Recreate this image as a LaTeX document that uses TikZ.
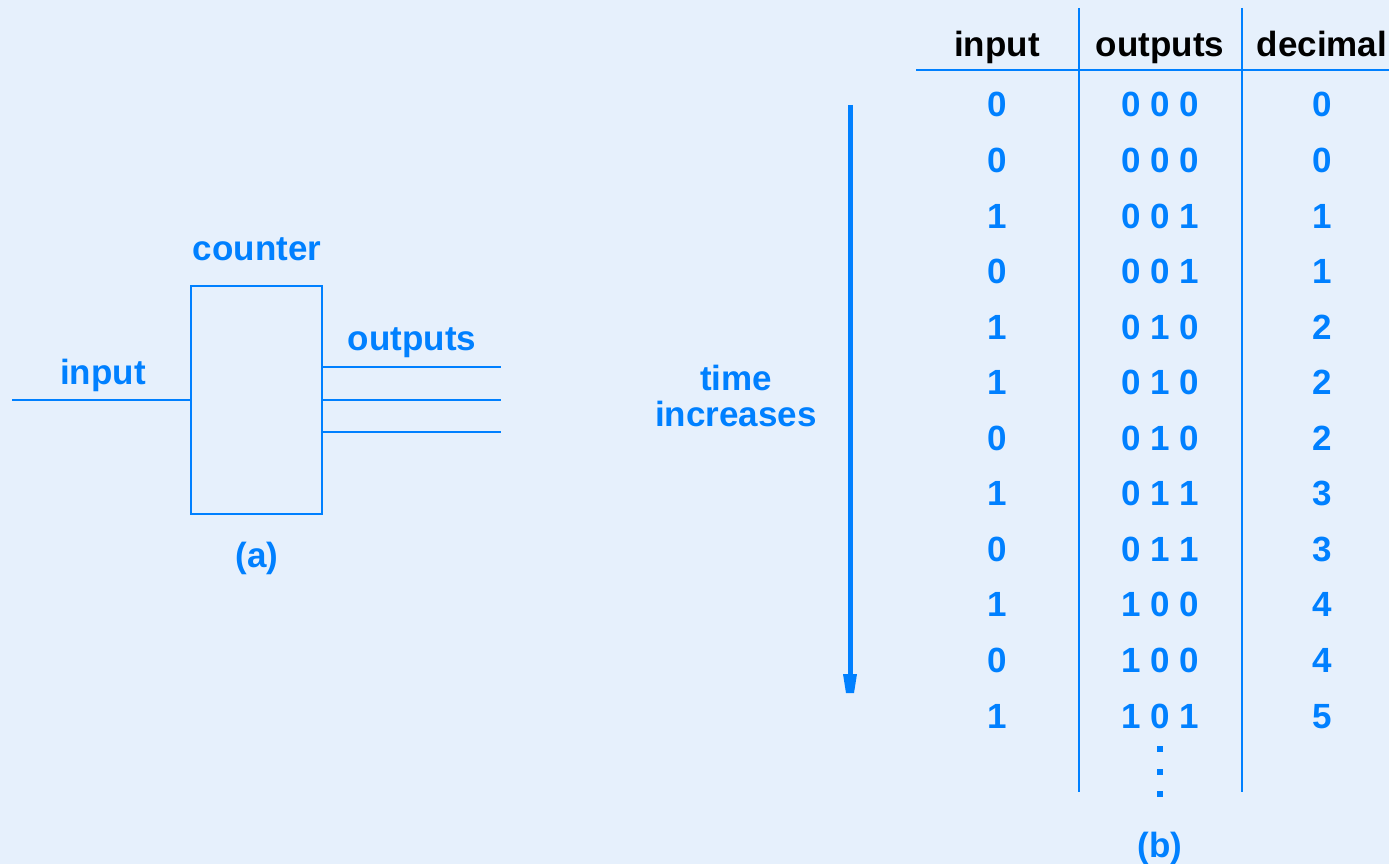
\documentclass[tikz,border=0pt]{standalone}
\usepackage{fontspec}
\setmainfont{Liberation Sans}
\usetikzlibrary{calc}
\definecolor{bgblue}{HTML}{E6F0FC}
\definecolor{linkblue}{HTML}{0080FF}
\tikzset{
	lbl/.style={font=\fontsize{35}{40}\selectfont\bfseries, text=linkblue, inner sep=0pt, anchor=base},
	hdr/.style={lbl, text=black},
	wire/.style={line width=2.3pt, color=linkblue}
}

\begin{document}
\begin{tikzpicture}[x=1pt, y=-1pt]
			%%%%% START %%%%%
			
			\fill[bgblue] (0, 0) rectangle (1389, 864);
			\useasboundingbox (0, 0) rectangle (1389, 864);
			
			% (a) counter
			\node[wire, draw, minimum width=131pt, minimum height=228pt, inner sep=0pt] (counter) at (256.5, 400) {};
			\coordinate (inw) at (12, 400);
			\coordinate (o1) at (501, 367);
			\coordinate (o2) at (501, 400);
			\coordinate (o3) at (501, 432);
			\draw[wire] (inw) -- (counter.west);
			\draw[wire] (counter.east |- o1) -- (o1);
			\draw[wire] (counter.east |- o2) -- (o2);
			\draw[wire] (counter.east |- o3) -- (o3);
			
			\node[lbl] (lblin) at (103, 384) {input};
			\node[lbl] (lblcnt) at (257, 260) {counter};
			\node[lbl] (lblout) at (412, 350) {outputs};
			\node[lbl, anchor=center] (capa) at (257, 558) {(a)};
			
			% time arrow
			\draw[line width=5pt, color=linkblue] (850, 105) -- (850, 676);
			\fill[linkblue] (843, 674) -- (857, 674) -- (854, 693) -- (846, 693) -- cycle;
			\node[lbl] (time) at (736, 390) {time};
			\node[lbl] (incr) at (736, 426) {increases};
			
			% (b) table
			\draw[wire] (916, 70) -- (1389, 70);
			\draw[wire] (1079, 8) -- (1079, 792);
			\draw[wire] (1242, 8) -- (1242, 792);
			
			\node[hdr] (hin) at (997, 57) {input};
			\node[hdr] (hout) at (1160, 57) {outputs};
			\node[hdr] (hdec) at (1322, 57) {decimal};
			
			\node[lbl] (in1) at (997, 117) {0};   \node[lbl] (out1) at (1160, 117) {0 0 0};   \node[lbl] (dec1) at (1322, 117) {0};
			\node[lbl] (in2) at (997, 172) {0};   \node[lbl] (out2) at (1160, 172) {0 0 0};   \node[lbl] (dec2) at (1322, 172) {0};
			\node[lbl] (in3) at (997, 228) {1};   \node[lbl] (out3) at (1160, 228) {0 0 1};   \node[lbl] (dec3) at (1322, 228) {1};
			\node[lbl] (in4) at (997, 283) {0};   \node[lbl] (out4) at (1160, 283) {0 0 1};   \node[lbl] (dec4) at (1322, 283) {1};
			\node[lbl] (in5) at (997, 339) {1};   \node[lbl] (out5) at (1160, 339) {0 1 0};   \node[lbl] (dec5) at (1322, 339) {2};
			\node[lbl] (in6) at (997, 394) {1};   \node[lbl] (out6) at (1160, 394) {0 1 0};   \node[lbl] (dec6) at (1322, 394) {2};
			\node[lbl] (in7) at (997, 450) {0};   \node[lbl] (out7) at (1160, 450) {0 1 0};   \node[lbl] (dec7) at (1322, 450) {2};
			\node[lbl] (in8) at (997, 505) {1};   \node[lbl] (out8) at (1160, 505) {0 1 1};   \node[lbl] (dec8) at (1322, 505) {3};
			\node[lbl] (in9) at (997, 561) {0};   \node[lbl] (out9) at (1160, 561) {0 1 1};   \node[lbl] (dec9) at (1322, 561) {3};
			\node[lbl] (in10) at (997, 616) {1};  \node[lbl] (out10) at (1160, 616) {1 0 0};  \node[lbl] (dec10) at (1322, 616) {4};
			\node[lbl] (in11) at (997, 672) {0};  \node[lbl] (out11) at (1160, 672) {1 0 0};  \node[lbl] (dec11) at (1322, 672) {4};
			\node[lbl] (in12) at (997, 728) {1};  \node[lbl] (out12) at (1160, 728) {1 0 1};  \node[lbl] (dec12) at (1322, 728) {5};
			
			\fill[linkblue] (1157, 746) rectangle (1163, 752);
			\fill[linkblue] (1157, 769) rectangle (1163, 775);
			\fill[linkblue] (1157, 791) rectangle (1163, 797);
			
			\node[lbl, anchor=center] (capb) at (1160, 848) {(b)};
			
			%%%%% END %%%%%
		\end{tikzpicture}
\end{document}
